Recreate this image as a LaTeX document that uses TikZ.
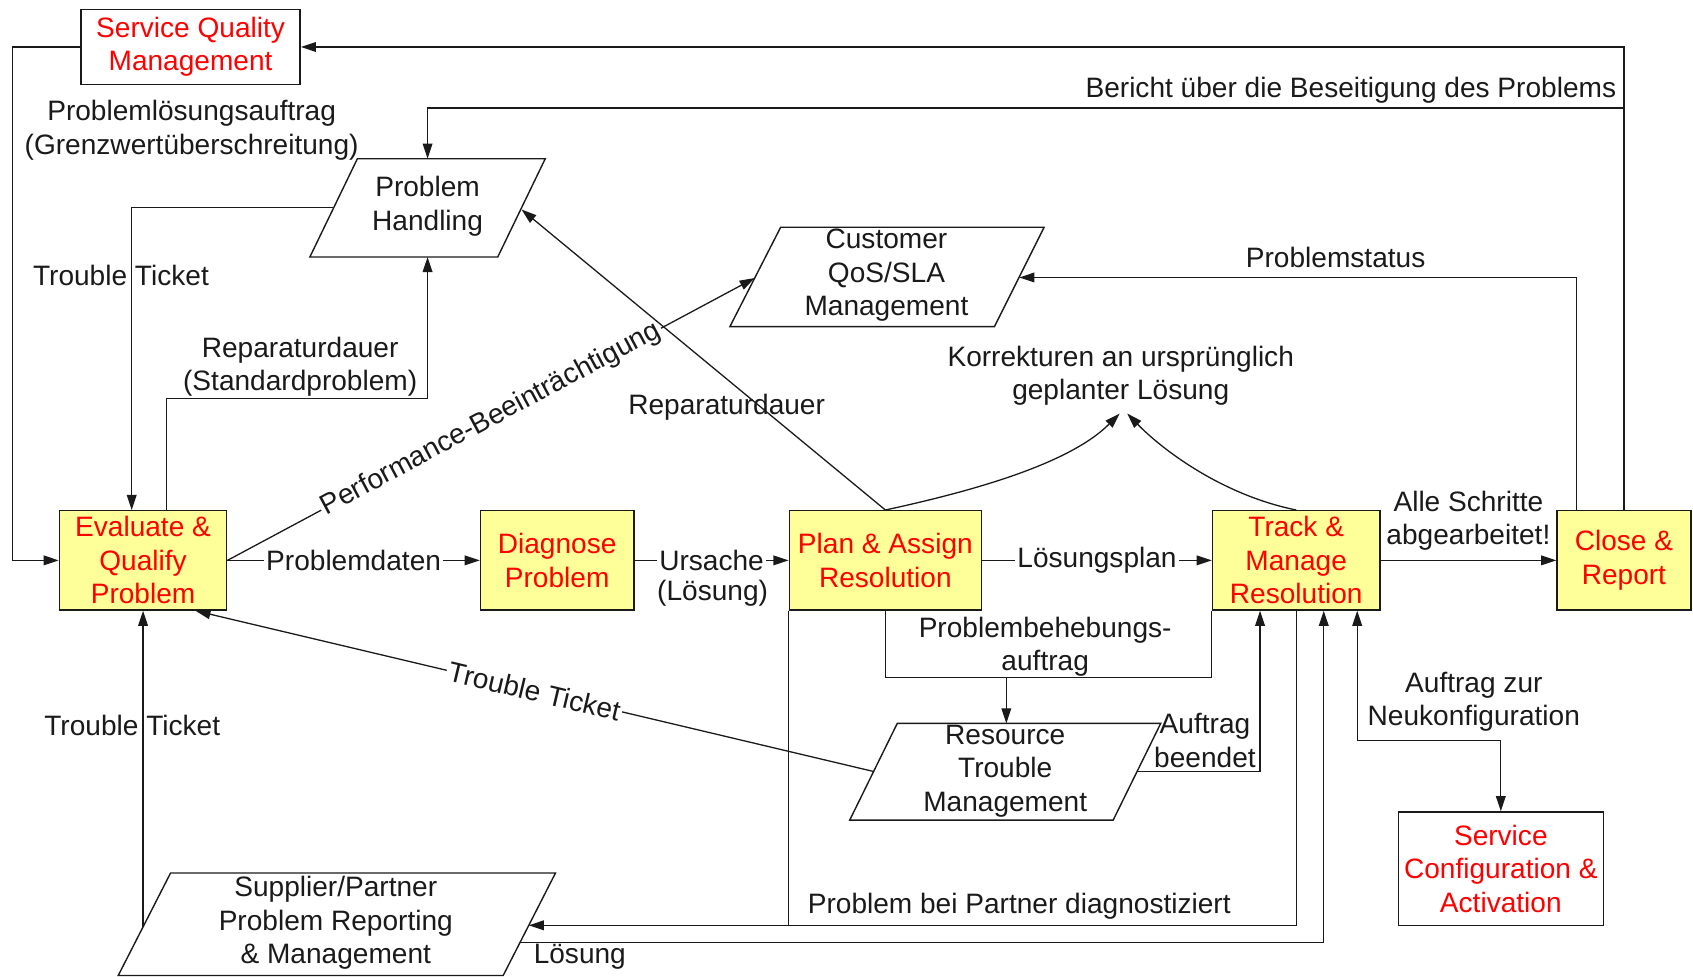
\documentclass[tikz,border=0pt]{standalone}
\usepackage{fontspec}
\setmainfont{Liberation Sans}
\usetikzlibrary{arrows.meta,calc}

\definecolor{procfill}{HTML}{FFFF99}
\definecolor{proctext}{HTML}{FF0000}
\definecolor{ink}{HTML}{1A1A1A}

\tikzset{
  every node/.style={font=\fontsize{26}{31}\selectfont, text=ink},
  proc/.style={draw=ink, line width=1.3pt, fill=procfill, text=proctext,
               align=center, inner sep=0pt},
  ext/.style={draw=ink, line width=1.3pt, fill=white, text=proctext,
              align=center, inner sep=0pt},
  txt/.style={align=center, inner sep=0pt},
  onl/.style={fill=white, inner xsep=2pt, inner ysep=0pt},
  flow/.style={draw=ink, line width=1.2pt},
  tip/.tip={Triangle[length=14pt,width=9pt]},
  arr/.style={flow, -tip},
  para/.style={draw=ink, line width=1.3pt, line join=miter},
}

\begin{document}
\begin{tikzpicture}[x=1pt, y=-1pt]
\useasboundingbox (0,0) rectangle (1568,904);

% ---------- process boxes ----------
\node[ext, minimum width=203pt, minimum height=69pt] (sqm) at (176.5,43.5)
  {Service Quality\\Management};
\node[proc, minimum width=155pt, minimum height=92pt] (ev) at (132.5,519)
  {Evaluate \&\\Qualify\\Problem};
\node[proc, minimum width=142pt, minimum height=92pt] (dg) at (516,519)
  {Diagnose\\Problem};
\node[proc, minimum width=178pt, minimum height=92pt] (pa) at (820,519)
  {Plan \& Assign\\Resolution};
\node[proc, minimum width=155pt, minimum height=92pt] (tm) at (1200.5,519)
  {Track \&\\Manage\\Resolution};
\node[proc, minimum width=124pt, minimum height=92pt] (cr) at (1504,519)
  {Close \&\\Report};
\node[ext, minimum width=190pt, minimum height=105pt] (sca) at (1390,804.5)
  {Service\\Configuration \&\\Activation};

% ---------- parallelograms ----------
\draw[para] (331,147) -- (505,147) -- (461,238) -- (287,238) -- cycle;
\node[txt] (ph) at (396,191) {Problem\\Handling};
\coordinate (ph-n) at (396,147);
\coordinate (ph-s) at (396,238);
\coordinate (ph-w) at (309,192);
\coordinate (ph-e) at (483,194);

\draw[para] (723,210.5) -- (967,210.5) -- (921,302.5) -- (676,302.5) -- cycle;
\node[txt] (cq) at (821,255) {Customer\\QoS/SLA\\Management};
\coordinate (cq-w) at (699,257.5);
\coordinate (cq-e) at (944,257);

\draw[para] (831,670) -- (1075,670) -- (1031,759.5) -- (787,759.5) -- cycle;
\node[txt] (rt) at (931,714) {Resource\\Trouble\\Management};
\coordinate (rt-n) at (932,670);
\coordinate (rt-w) at (809,714.5);
\coordinate (rt-e) at (1053,714.5);

\draw[para] (158,808.5) -- (514.5,808.5) -- (466,903.5) -- (109.5,903.5) -- cycle;
\node[txt] (sp) at (311,855) {Supplier/Partner\\Problem Reporting\\\& Management};
\coordinate (sp-e1) at (489.7,857);
\coordinate (sp-e2) at (481.6,873);
\coordinate (sp-w) at (132.5,858.4);

% ---------- connectors ----------
% quality management loop
\draw[arr] (sqm.west) -- ++(-63,0) |- (ev.west);
\node[txt] at (177.5,120.5) {Problemlösungsauftrag\\(Grenzwertüberschreitung)};
\draw[arr] (cr.north) |- (sqm.east);
\draw[arr] (cr.north |- 0,100) -| (ph-n);
\node[txt, anchor=east] at (1497,83.5) {Bericht über die Beseitigung des Problems};
\draw[arr] ([xshift=-44pt]cr.north) |- (cq-e);
\node[txt] at (1237,238.5) {Problemstatus};

% problem handling
\draw[arr] (ph-w) -| ([xshift=-10.5pt]ev.north);
\node[txt] at (112,255) {Trouble Ticket};
\draw[arr] ([xshift=21.5pt]ev.north) -- ++(0,-103) -| (ph-s);
\node[txt] at (278,339.5) {Reparaturdauer\\(Standardproblem)};

% main chain
\draw[arr] (ev.east) -- node[onl] {Problemdaten} (dg.west);
\draw[arr] (dg.east) -- node[onl] {Ursache} (pa.west);
\node[txt] at (660,549.5) {(Lösung)};
\draw[arr] (pa.east) -- node[onl] {Lösungsplan} (tm.west);
\draw[arr] (tm.east) -- (cr.west);
\node[txt] at (1360,482.5) {Alle Schritte\\abgearbeitet!};

% customer impact
\draw[arr] (ev.east) -- node[onl, sloped] {Performance-Beeinträchtigung} (cq-w);

% repair duration back to problem handling
\draw[arr] (pa.north) -- (ph-e);
\node[txt] at (673,377) {Reparaturdauer};

% corrections of the planned solution
\coordinate (kor-l) at (1037,383);
\coordinate (kor-r) at (1044,383);
\draw[arr] (pa.north) .. controls (900,455) and (990,430) .. (kor-l);
\draw[arr] (tm.north) .. controls (1130,458) and (1075,415) .. (kor-r);
\node[txt] (kor) at (1038,348) {Korrekturen an ursprünglich\\geplanter Lösung};

% resource trouble management
\draw[flow] (pa.south) -- ++(0,62) -| (tm.south west);
\draw[arr] (rt-n |- 0,627) -- (rt-n);
\node[txt] at (968,599) {Problembehebungs-\\auftrag};
\draw[arr] (rt-e) -| ([xshift=-33.5pt]tm.south);
\node[txt] at (1116,686) {Auftrag\\beendet};
\draw[arr] (rt-w) -- node[onl, sloped] {Trouble Ticket} ([xshift=48.5pt]ev.south);

% supplier / partner
\draw[arr] (tm.south) |- (sp-e1);
\draw[flow] (pa.south west) -- (pa.south west |- sp-e1);
\node[txt] at (944,839.5) {Problem bei Partner diagnostiziert};
\draw[arr] (sp-e2) -| ([xshift=25.5pt]tm.south);
\node[txt] at (537,886) {Lösung};
\draw[arr] (sp-w) -- (ev.south);
\node[txt] at (122.5,672) {Trouble Ticket};

% reconfiguration
\draw[flow, tip-tip] ([xshift=56.5pt]tm.south) -- ++(0,120) -| (sca.north);
\node[txt] at (1365,650) {Auftrag zur\\Neukonfiguration};
\end{tikzpicture}
\end{document}
